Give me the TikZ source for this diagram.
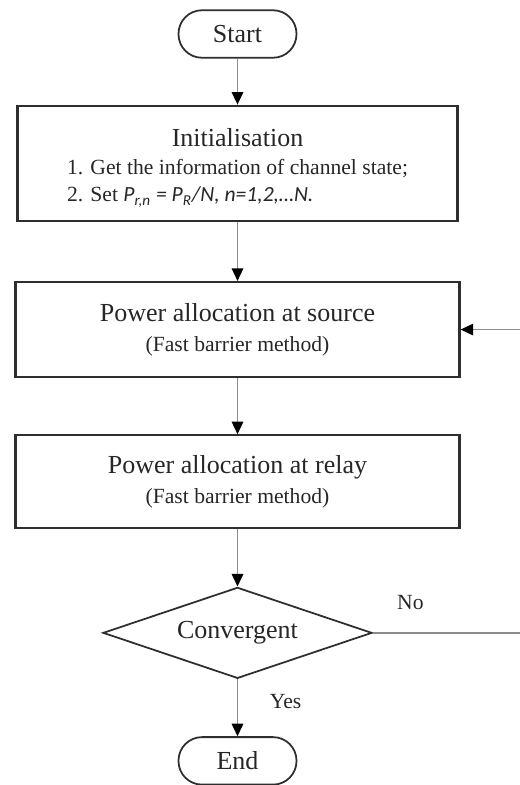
\documentclass[tikz,border=0pt]{standalone}
\usepackage{fontspec}
\setmainfont{Liberation Serif}
\newfontfamily\calib{Carlito}
\usetikzlibrary{positioning,shapes.geometric,arrows.meta}

\definecolor{edgegray}{HTML}{2E2E2E}
\definecolor{wiregray}{HTML}{8C8C8C}
\newcommand{\bigtxt}{\fontsize{14.8pt}{18pt}\selectfont}
\newcommand{\smalltxt}{\fontsize{12.3pt}{15.6pt}\selectfont}

\begin{document}
\begin{tikzpicture}[>={Triangle[length=2.5mm,width=2.3mm,color=black]},
		process/.style={shape=rectangle,draw=edgegray,line width=1.3pt,
			minimum width=8.88cm,align=center,font=\bigtxt,text=black!85},
		term/.style={shape=rectangle,draw=edgegray,line width=1pt,
			rounded corners=0.47cm,minimum width=2.36cm,minimum height=0.95cm,
			inner sep=0pt,font=\bigtxt,text=black!85},
		decision/.style={shape=diamond,draw=edgegray,line width=1pt,
			shape aspect=2.9,minimum width=5.38cm,minimum height=1.82cm,
			inner sep=0pt,font=\bigtxt,text=black!85},
		lbl/.style={inner sep=0pt,font=\smalltxt,text=black!85},
		line/.style={draw=wiregray,line width=0.9pt}]
		\useasboundingbox (0,0) rectangle (10.4,-15.7);
		% create the nodes.
		\node (start) [term] at (4.75,-0.68) {Start};
		\node (init) [process,minimum width=8.8cm,minimum height=2.3cm,below=0.92cm of start]
			{\rule{0pt}{17pt}Initialisation\\[-2pt]
			\smalltxt\begin{tabular}[t]{@{}l@{}}
				1. Get the information of channel state;\\
				2. Set {\calib\itshape P\textsubscript{r,n} = P\textsubscript{R}/N, n=1,2,…N.}
			\end{tabular}};
		\node (source) [process,minimum height=1.9cm,below=1.18cm of init]
			{Power allocation at source\\[-1pt]{\smalltxt (Fast barrier method)}};
		\node (relay) [process,minimum height=1.86cm,below=1.12cm of source]
			{Power allocation at relay\\[-1pt]{\smalltxt (Fast barrier method)}};
		\node (conv) [decision,below=1.14cm of relay] {Convergent};
		\node (end) [term,below=1.14cm of conv] {End};
		\node (no) [lbl,anchor=south west,above right=0.46cm and 0.48cm of conv.east] {No};
		\node (yes) [lbl,anchor=north west,below right=0.3cm and 0.64cm of conv.south] {Yes};
		\coordinate (edge) at (10.4,0);

		% connect the nodes
		\draw[line,->] (start) -- (init);
		\draw[line,->] (init) -- (source);
		\draw[line,->] (source) -- (relay);
		\draw[line,->] (relay) -- (conv);
		\draw[line,->] (conv) -- (end);
		\draw[line] (conv.east) -- (conv.east -| edge);
		\draw[line,->] (source.east -| edge) -- (source.east);
	\end{tikzpicture}
\end{document}
